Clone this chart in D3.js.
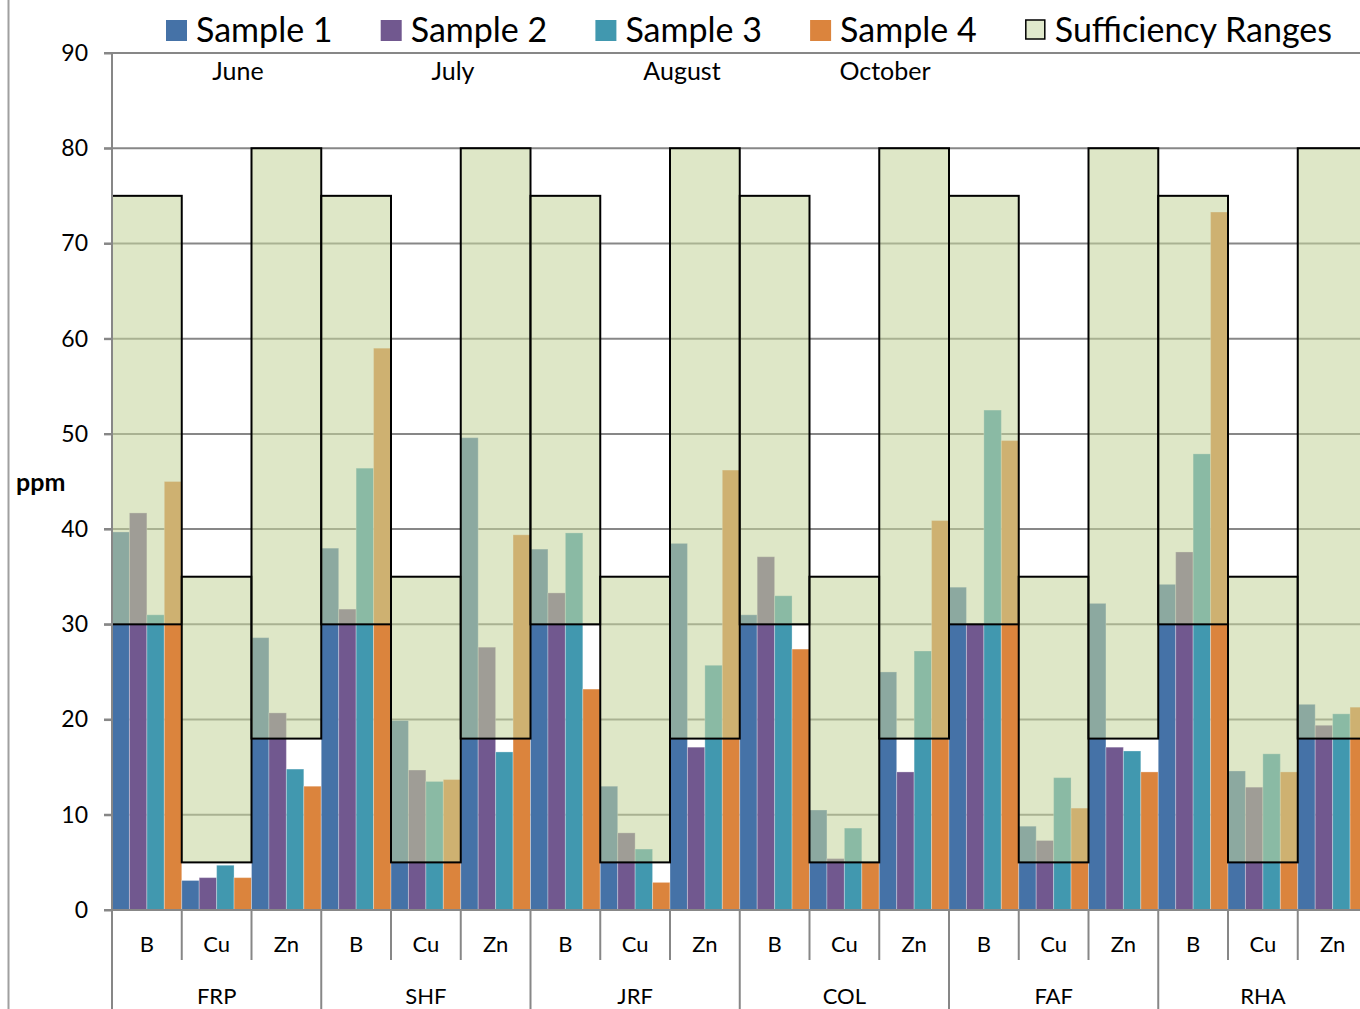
<!DOCTYPE html>
<html>
<head>
<meta charset="utf-8">
<script src="https://cdn.jsdelivr.net/npm/d3@7/dist/d3.min.js"></script>
<style>
  html, body { margin: 0; padding: 0; background: #fff; }
  svg { display: block; font-family: Lato, "Open Sans", sans-serif; }
</style>
</head>
<body>
<svg id="chart" width="1360" height="1009"></svg>
<script>
// ---------------- data ----------------
const sites = ["FRP", "SHF", "JRF", "COL", "FAF", "RHA"];
const nutrients = ["B", "Cu", "Zn"];
const sampleNames = ["Sample 1", "Sample 2", "Sample 3", "Sample 4"];
const months = ["June", "July", "August", "October"];
const rangeLow = [30, 5, 18];   // per nutrient B, Cu, Zn
const rangeHigh = [75, 35, 80];
const yTicks = [0, 10, 20, 30, 40, 50, 60, 70, 80, 90];

// values ordered site by site, nutrients B, Cu, Zn
const sample1 = [39.7, 3.1, 28.6, 38.0, 19.9, 49.6, 37.9, 13.0, 38.5, 31.0, 10.5, 25.0, 33.9, 8.8, 32.2, 34.2, 14.6, 21.6];
const sample2 = [41.7, 3.4, 20.7, 31.6, 14.7, 27.6, 33.3, 8.1, 17.1, 37.1, 5.4, 14.5, 30.0, 7.3, 17.1, 37.6, 12.9, 19.4];
const sample3 = [31.0, 4.7, 14.8, 46.4, 13.5, 16.6, 39.6, 6.4, 25.7, 33.0, 8.6, 27.2, 52.5, 13.9, 16.7, 47.9, 16.4, 20.6];
const sample4 = [45.0, 3.4, 13.0, 59.0, 13.7, 39.4, 23.2, 2.9, 46.2, 27.4, 5.0, 40.9, 49.3, 10.7, 14.5, 73.3, 14.5, 21.3];

// ---------------- style ----------------
const colors = ["#4572A7", "#71588F", "#4198AF", "#DB843D"];
const gridColor = "#878787";
const boxFill = "rgb(196,213,156)";
const boxOpacity = 0.56;

const series = [sample1, sample2, sample3, sample4];
const slots = [];
sites.forEach(s => nutrients.forEach((n, j) => slots.push({ site: s, nut: n, ni: j, key: s + "|" + n })));

const svg = d3.select("#chart");
const W = 1360, H = 1009;
const left = 112, slotW = 69.75;
const x = d3.scaleBand().domain(slots.map(d => d.key)).range([left, left + slots.length * slotW]).padding(0);
const xs = d3.scaleBand().domain(sampleNames).range([0, x.bandwidth()]).padding(0);
const y = d3.scaleLinear().domain([0, 90]).range([910, 53]);

// outer left border line
svg.append("line").attr("x1", 8.5).attr("x2", 8.5).attr("y1", 0).attr("y2", H)
  .attr("stroke", "#a0a0a0").attr("stroke-width", 2);

// gridlines
svg.append("g").selectAll("line").data(yTicks.filter(t => t > 0)).join("line")
  .attr("x1", left - 8).attr("x2", W)
  .attr("y1", d => y(d)).attr("y2", d => y(d))
  .attr("stroke", gridColor).attr("stroke-width", 2);

// bars
const barData = [];
slots.forEach((sl, i) => series.forEach((arr, k) => barData.push({ key: sl.key, k, v: arr[i] })));
svg.append("g").selectAll("rect").data(barData).join("rect")
  .attr("x", d => x(d.key) + xs(sampleNames[d.k]))
  .attr("width", xs.bandwidth())
  .attr("y", d => y(d.v))
  .attr("height", d => y(0) - y(d.v))
  .attr("fill", d => colors[d.k])
  .attr("stroke", "rgba(255,255,255,0.3)")
  .attr("stroke-width", 1);

// sufficiency range boxes (semi-transparent overlay)
svg.append("g").selectAll("rect").data(slots).join("rect")
  .attr("x", d => x(d.key))
  .attr("width", x.bandwidth())
  .attr("y", d => y(rangeHigh[d.ni]))
  .attr("height", d => y(rangeLow[d.ni]) - y(rangeHigh[d.ni]))
  .attr("fill", boxFill).attr("fill-opacity", boxOpacity)
  .attr("stroke", "#000").attr("stroke-width", 2);

// y axis
const yAxis = d3.axisLeft(y).tickValues(yTicks).tickSize(8).tickPadding(16);
const gy = svg.append("g").attr("transform", `translate(${left},0)`).call(yAxis);
gy.select(".domain").remove();
gy.selectAll(".tick line").attr("stroke", gridColor).attr("stroke-width", 2);
gy.selectAll(".tick text").attr("font-size", 23).attr("fill", "#000")
  .attr("font-family", "Lato, sans-serif");
svg.append("line").attr("x1", left).attr("x2", left).attr("y1", y(90)).attr("y2", H)
  .attr("stroke", gridColor).attr("stroke-width", 2);

// x axis baseline
svg.append("line").attr("x1", left - 8).attr("x2", W).attr("y1", y(0)).attr("y2", y(0))
  .attr("stroke", gridColor).attr("stroke-width", 2);

// category separators
svg.append("g").selectAll("line").data(slots.slice(1)).join("line")
  .attr("x1", d => x(d.key)).attr("x2", d => x(d.key))
  .attr("y1", y(0)).attr("y2", d => d.ni === 0 ? H : 960)
  .attr("stroke", gridColor).attr("stroke-width", 2);

// nutrient labels
svg.append("g").selectAll("text").data(slots).join("text")
  .attr("x", d => x(d.key) + x.bandwidth() / 2)
  .attr("y", 952)
  .attr("text-anchor", "middle").attr("font-size", 22).attr("fill", "#000")
  .text(d => d.nut);

// site labels
svg.append("g").selectAll("text").data(sites).join("text")
  .attr("x", s => x(s + "|Cu") + x.bandwidth() / 2)
  .attr("y", 1004)
  .attr("text-anchor", "middle").attr("font-size", 22).attr("fill", "#000")
  .text(s => s);

// y label
svg.append("text").attr("x", 16).attr("y", 491).attr("font-size", 25).attr("font-weight", "bold")
  .attr("fill", "#000").text("ppm");

// month annotations
const monthX = [238, 453, 682, 885];
svg.append("g").selectAll("text").data(months).join("text")
  .attr("x", (d, i) => monthX[i]).attr("y", 80)
  .attr("text-anchor", "middle").attr("font-size", 25).attr("fill", "#000")
  .text(d => d);

// legend
const legendItems = sampleNames.map((n, i) => ({ name: n, fill: colors[i], stroke: "none" }))
  .concat([{ name: "Sufficiency Ranges", fill: "#E0E9CC", stroke: "#000" }]);
const lg = svg.append("g").selectAll("g").data(legendItems).join("g")
  .attr("transform", (d, i) => `translate(${166 + i * 214.7},0)`);
lg.append("rect").attr("x", d => d.stroke === "none" ? 0 : 1).attr("y", 20)
  .attr("width", d => d.stroke === "none" ? 21 : 19).attr("height", d => d.stroke === "none" ? 21 : 19)
  .attr("fill", d => d.fill).attr("stroke", d => d.stroke).attr("stroke-width", 1.5);
lg.append("text").attr("x", 30).attr("y", 42).attr("font-size", 34).attr("fill", "#000")
  .text(d => d.name);
</script>
</body>
</html>
